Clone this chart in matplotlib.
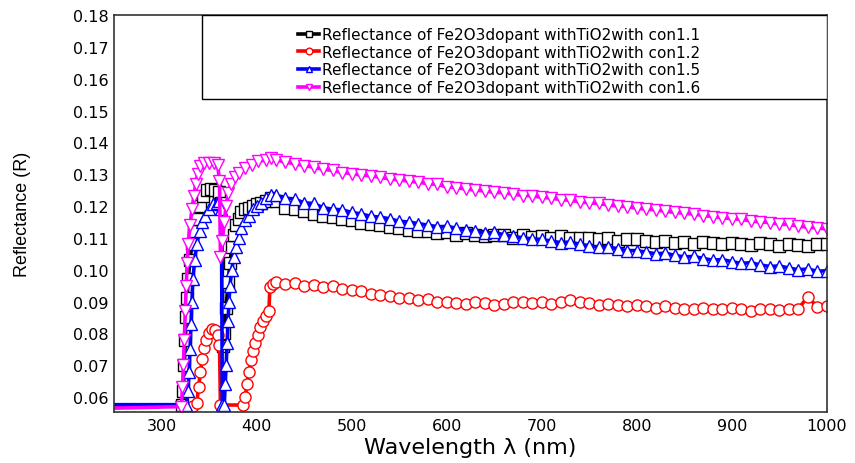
import matplotlib
matplotlib.use("Agg")
import numpy as np
from matplotlib import pyplot as plt
from matplotlib.patches import Rectangle

# wavelength grid shared by the slowly decaying part of every curve (420..1000 nm)
tail_wl = [420, 430, 440, 450, 460, 470, 480, 490, 500, 510, 520, 530, 540, 550,
           560, 570, 580, 590, 600, 610, 620, 630, 640, 650, 660, 670, 680, 690,
           700, 710, 720, 730, 740, 750, 760, 770, 780, 790, 800, 810, 820, 830,
           840, 850, 860, 870, 880, 890, 900, 910, 920, 930, 940, 950, 960, 970,
           980, 990, 1000]

# con 1.1 (black, squares)
wl_11 = [250, 322, 323, 324, 325, 326, 327, 328,
         330, 332, 334, 337, 340, 344, 348, 352, 356, 360, 363, 365, 366, 368,
         370, 372, 374, 376, 378, 381, 384, 388, 392, 396, 400, 405, 410, 415] + tail_wl
r_11 = [0.0575, 0.0575, 0.062,
        0.070, 0.078, 0.085, 0.091, 0.097, 0.103, 0.108, 0.112, 0.116, 0.120,
        0.123, 0.125, 0.1255, 0.125, 0.1245, 0.121, 0.076, 0.080, 0.088, 0.096,
        0.102, 0.107, 0.111, 0.114, 0.116, 0.118, 0.119, 0.1195, 0.120, 0.1205,
        0.121, 0.1215, 0.1225,
        0.1215, 0.1195, 0.119, 0.1185, 0.1175, 0.117, 0.1165, 0.116, 0.1155,
        0.1148, 0.1145, 0.114, 0.1133, 0.113, 0.1125, 0.112, 0.1122, 0.1115,
        0.1118, 0.111, 0.1115, 0.111, 0.1105, 0.111, 0.1108, 0.110, 0.1108,
        0.1103, 0.1105, 0.110, 0.1105, 0.110, 0.1098, 0.110, 0.1095, 0.1098,
        0.109, 0.1095, 0.1095, 0.109, 0.1088, 0.109, 0.1085, 0.1088, 0.108,
        0.1088, 0.1085, 0.108, 0.1085, 0.108, 0.1078, 0.1083, 0.108, 0.1075,
        0.108, 0.1077, 0.1075, 0.108, 0.108]

# con 1.2 (red, circles)
wl_12 = [250, 333, 337, 339, 341, 343,
         345, 347, 350, 353, 356, 359, 361, 362, 386, 388, 390, 392,
         394, 396, 398, 401, 404, 407, 410, 413, 414, 417] + tail_wl
r_12 = [0.0572,
        0.0572, 0.058, 0.063, 0.068, 0.072, 0.0755, 0.078, 0.080, 0.0815, 0.081,
        0.0795, 0.0765, 0.0575, 0.0575, 0.060, 0.064, 0.068,
        0.0715, 0.0745, 0.077, 0.0795, 0.082, 0.084, 0.0855, 0.087, 0.0945,
        0.0955,
        0.096, 0.0955, 0.0958, 0.095, 0.0952, 0.0945, 0.0948, 0.094, 0.0935,
        0.0932, 0.0925, 0.092, 0.0918, 0.091, 0.0912, 0.0905, 0.0908, 0.090,
        0.0898, 0.0895, 0.0893, 0.090, 0.0895, 0.089, 0.0893, 0.0898, 0.090,
        0.0895, 0.090, 0.0893, 0.0898, 0.0905, 0.090, 0.0895, 0.089, 0.0893,
        0.0888, 0.0885, 0.089, 0.0885, 0.088, 0.0885, 0.088, 0.0878, 0.0875,
        0.088, 0.0877, 0.0875, 0.088, 0.0875, 0.087, 0.0875, 0.0878, 0.0872,
        0.0875, 0.0878, 0.0915, 0.0882, 0.0885]

# con 1.5 (blue, triangles up)
wl_15 = [250, 326, 328, 329, 330, 331, 332,
         333, 335, 337, 340, 343, 346, 350, 354, 358, 361, 363, 364, 366, 367,
         368, 369, 370, 371, 372, 374, 376, 378, 381, 384, 388, 392, 396, 400,
         405, 410, 415] + tail_wl
r_15 = [0.0576, 0.0576,
        0.062, 0.068, 0.075, 0.083, 0.090, 0.097, 0.103, 0.108, 0.112, 0.115,
        0.117, 0.119, 0.1205, 0.121, 0.1215, 0.119, 0.0575, 0.0575, 0.064,
        0.070, 0.077, 0.084, 0.090, 0.095, 0.100, 0.104, 0.107, 0.110, 0.113,
        0.1155, 0.117, 0.119, 0.120, 0.121, 0.1225, 0.1235,
        0.1235, 0.1225, 0.1222, 0.121, 0.1208, 0.1195, 0.119, 0.1188, 0.118,
        0.1175, 0.1168, 0.1165, 0.116, 0.1152, 0.115, 0.1145, 0.114, 0.1135,
        0.1136, 0.113, 0.1125, 0.1122, 0.1115, 0.1117, 0.111, 0.1105, 0.110,
        0.1097, 0.1095, 0.109, 0.1085, 0.1087, 0.108, 0.1075, 0.107, 0.1072,
        0.1065, 0.106, 0.106, 0.1055, 0.105, 0.1052, 0.1045, 0.104, 0.1042,
        0.1035, 0.103, 0.1032, 0.1025, 0.102, 0.1022, 0.1015, 0.101, 0.1012,
        0.1005, 0.100, 0.1002, 0.0995, 0.0997]

# con 1.6 (magenta, triangles down)
wl_16 = [250, 321, 322, 323, 324, 325, 326,
         327, 328, 330, 332, 334, 336, 338, 341, 345, 350, 355, 359, 361, 362,
         364, 366, 368, 370, 373, 377, 382, 388, 395, 402, 410, 415] + tail_wl
r_16 = [0.0565, 0.057,
        0.063, 0.070, 0.078, 0.087, 0.095, 0.102, 0.108, 0.114, 0.119, 0.123,
        0.127, 0.130, 0.1325, 0.1335, 0.1335, 0.1335, 0.133, 0.128, 0.104,
        0.109, 0.115, 0.120, 0.124, 0.127, 0.129, 0.1305, 0.132, 0.133, 0.134,
        0.1345, 0.135,
        0.1345, 0.1338, 0.1333, 0.1327, 0.1322, 0.1315, 0.1312, 0.1305, 0.1302,
        0.1297, 0.1295, 0.129, 0.1285, 0.1282, 0.1278, 0.1275, 0.127, 0.1268,
        0.126, 0.1258, 0.1253, 0.125, 0.1247, 0.1243, 0.1242, 0.1237, 0.1233,
        0.1232, 0.1227, 0.1225, 0.122, 0.1218, 0.1213, 0.121, 0.1208, 0.1203,
        0.120, 0.1198, 0.1193, 0.119, 0.1188, 0.1183, 0.118, 0.1177, 0.1175,
        0.117, 0.1167, 0.1163, 0.116, 0.1158, 0.1153, 0.115, 0.1148, 0.1143,
        0.1142, 0.1137, 0.1133, 0.1132, 0.1127]

labels = ["Reflectance of Fe2O3dopant withTiO2with con1.1",
          "Reflectance of Fe2O3dopant withTiO2with con1.2",
          "Reflectance of Fe2O3dopant withTiO2with con1.5",
          "Reflectance of Fe2O3dopant withTiO2with con1.6"]

fig = plt.figure(figsize=(8.55, 4.64), dpi=100)
ax = fig.add_axes([0.1333, 0.1099, 0.8339, 0.8556])

series = [(wl_11, r_11, "black", "s"),
          (wl_12, r_12, "red", "o"),
          (wl_15, r_15, "blue", "^"),
          (wl_16, r_16, "magenta", "v")]
for (x, y, c, m), lab in zip(series, labels):
    # skip the marker on the first (edge) point, the flat baseline shows none
    ax.plot(x, y, color=c, lw=2.6, marker=m, ms=8, mfc="white", mec=c,
            mew=1.0, label=lab, markevery=slice(1, None))

ax.set_xlim(250, 1000)
ax.set_ylim(0.0553, 0.18)
ax.set_xticks(np.arange(300, 1001, 100))
ax.set_yticks(np.arange(0.06, 0.1801, 0.01))
ax.set_yticklabels(["%.2f" % v for v in np.arange(0.06, 0.1801, 0.01)])
ax.tick_params(length=0, labelsize=11.5, pad=4)
for s in ax.spines.values():
    s.set_color("#333333")
    s.set_linewidth(1.2)

ax.set_xlabel("Wavelength λ (nm)", fontsize=16, labelpad=3)
ax.set_ylabel("Reflectance (R)", fontsize=13, family="Liberation Sans", labelpad=30)

# legend box drawn as a separate frame, like the original
ax.add_patch(Rectangle((0.1234, 0.788), 0.8766, 0.212, transform=ax.transAxes,
                       facecolor="white", edgecolor="black", lw=1.0, zorder=5))
leg = ax.legend(loc="upper left", bbox_to_anchor=(0.258, 0.970), frameon=False,
                fontsize=11, handlelength=1.4, handletextpad=0.15,
                labelspacing=0.18, borderpad=0, borderaxespad=0, markerscale=0.6)
leg.set_zorder(6)

fig.savefig("out.png", dpi=100)
